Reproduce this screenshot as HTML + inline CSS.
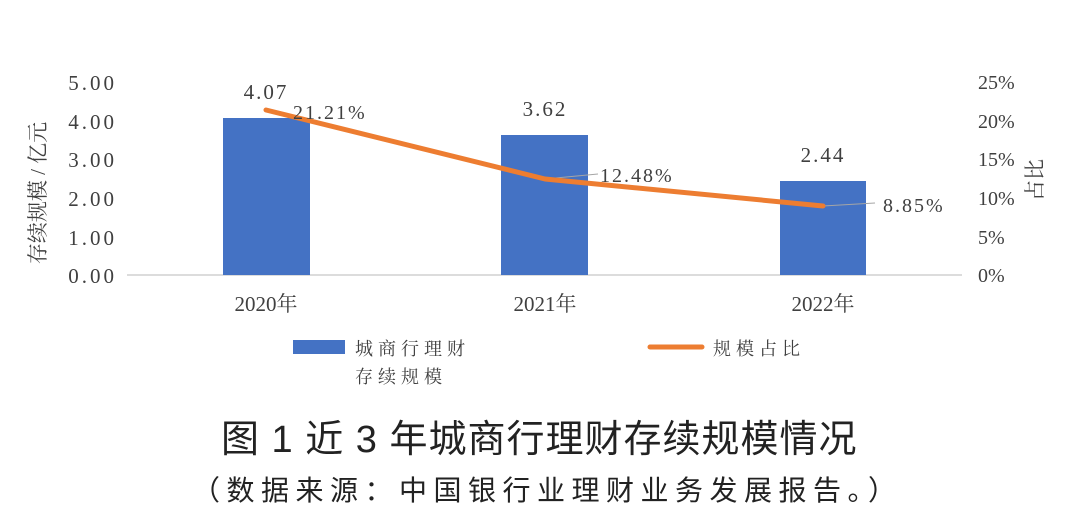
<!DOCTYPE html>
<html><head><meta charset="utf-8"><style>
html,body{margin:0;padding:0;background:#fff;}
svg{display:block;}
.s{font-family:"Liberation Serif","Noto Serif CJK SC",serif;fill:#404040;}
.k{font-family:"Liberation Sans","Noto Sans CJK SC",sans-serif;fill:#222;}
</style></head><body>
<svg width="1080" height="526" viewBox="0 0 1080 526" xmlns="http://www.w3.org/2000/svg">
<g class="s" font-size="21" text-anchor="end" letter-spacing="3">
<text x="117" y="90">5.00</text>
<text x="117" y="129">4.00</text>
<text x="117" y="167">3.00</text>
<text x="117" y="206">2.00</text>
<text x="117" y="245">1.00</text>
<text x="117" y="283">0.00</text>
</g>
<g class="s" font-size="20" text-anchor="start">
<text x="978" y="89">25%</text>
<text x="978" y="128">20%</text>
<text x="978" y="166">15%</text>
<text x="978" y="205">10%</text>
<text x="978" y="244">5%</text>
<text x="978" y="282">0%</text>
</g>
<text class="s" font-size="21" text-anchor="middle" transform="translate(45,193) rotate(-90)">存续规模 / 亿元</text>
<text class="s" font-size="21" text-anchor="middle" transform="translate(1042,180) rotate(-90)">占比</text>
<line x1="127" y1="275" x2="962" y2="275" stroke="#d0d0d0" stroke-width="1.5"/>
<rect x="223" y="118" width="87" height="157" fill="#4472c4"/>
<rect x="501" y="135" width="87" height="140" fill="#4472c4"/>
<rect x="780" y="181" width="86" height="94" fill="#4472c4"/>
<g class="s" font-size="21" text-anchor="middle" letter-spacing="2">
<text x="266" y="99">4.07</text>
<text x="545" y="116">3.62</text>
<text x="823" y="162">2.44</text>
</g>
<g class="s" font-size="21" text-anchor="middle">
<text x="266" y="311">2020年</text>
<text x="545" y="311">2021年</text>
<text x="823" y="311">2022年</text>
</g>
<line x1="545" y1="179" x2="598" y2="174" stroke="#a5a5a5" stroke-width="1"/>
<line x1="823" y1="206" x2="875" y2="203" stroke="#a5a5a5" stroke-width="1"/>
<polyline points="266,110 545,179 823,206" fill="none" stroke="#ed7d31" stroke-width="5" stroke-linejoin="round" stroke-linecap="round"/>
<g class="s" font-size="20" letter-spacing="2">
<text x="293" y="119">21.21%</text>
<text x="600" y="182">12.48%</text>
<text x="883" y="212">8.85%</text>
</g>
<rect x="293" y="340" width="52" height="14" fill="#4472c4"/>
<text class="s" font-size="18" x="355" y="355" letter-spacing="5">城商行理财</text>
<text class="s" font-size="18" x="355" y="383" letter-spacing="5">存续规模</text>
<line x1="650" y1="347" x2="702" y2="347" stroke="#ed7d31" stroke-width="5" stroke-linecap="round"/>
<text class="s" font-size="18" x="713" y="355" letter-spacing="5">规模占比</text>
<text class="k" font-size="38" x="221" y="452" letter-spacing="1">图 1  近 3 年城商行理财存续规模情况</text>
<text class="k" font-size="28" x="192" y="500" letter-spacing="6.5">（数据来源：中国银行业理财业务发展报告。）</text>
</svg>
</body></html>
